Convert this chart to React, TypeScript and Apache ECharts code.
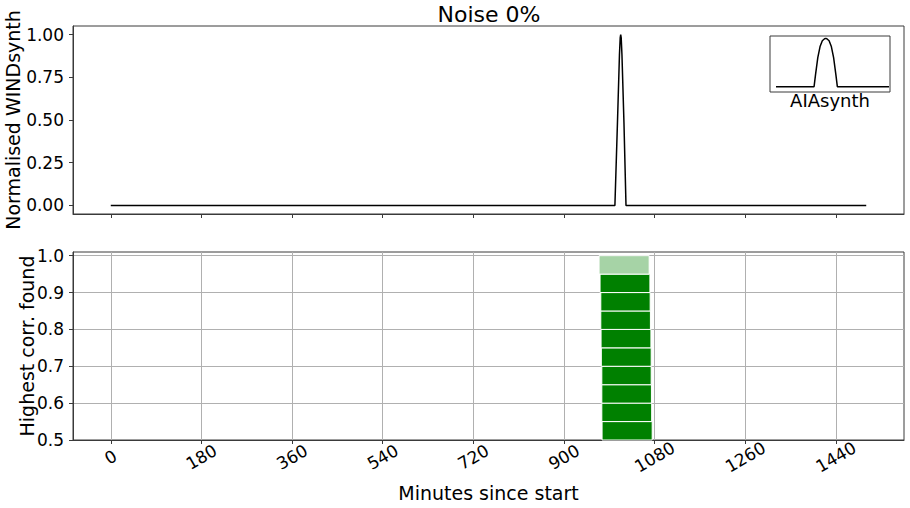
import React, { useEffect, useRef } from "react";
import * as echarts from "echarts";

// ---- data ----
const minuteTicks = [0, 180, 360, 540, 720, 900, 1080, 1260, 1440];
const windTicks = [0, 0.25, 0.5, 0.75, 1.0];
const corrTicks = [0.5, 0.6, 0.7, 0.8, 0.9, 1.0];

// WINDsynth normalised signal (minutes, value)
const windX = [0, 1001, 1006, 1010, 1011.5, 1012.5, 1013.5, 1015, 1019, 1023, 1500];
const windY = [0, 0, 0.48, 0.88, 0.98, 1.0, 0.98, 0.88, 0.48, 0, 0];

// Correlation strips found (dark green)
const stripStart = [975.5, 975, 975, 975, 974, 973.5, 973, 973, 971.5];
const stripEnd = [1075, 1074, 1073.5, 1073, 1073, 1072.5, 1071.5, 1071, 1070.5];
const stripLow = [0.5, 0.55, 0.6, 0.65, 0.7, 0.75, 0.8, 0.85, 0.9];
const stripHigh = [0.55, 0.6, 0.65, 0.7, 0.75, 0.8, 0.85, 0.9, 0.95];

// Best-match strip (light green)
const bestStart = [969.5];
const bestEnd = [1069];
const bestLow = [0.95];
const bestHigh = [1.0];

// AIAsynth template (inset)
const insetX = [0, 33.7, 35, 37, 39, 41, 43, 44, 45, 47, 49, 51, 53, 54.3, 100];
const insetY = [0, 0, 0.25, 0.6, 0.83, 0.95, 0.99, 1, 0.99, 0.95, 0.83, 0.6, 0.25, 0, 0];

const FONT = "DejaVu Sans";
const FRAME = "#3a3a3a";

export default function App() {
  const ref = useRef<HTMLDivElement>(null);
  useEffect(() => {
    if (!ref.current) return;
    const chart = echarts.init(ref.current, undefined, { renderer: "svg" });

    const rectItem = (fill: string) => (params: any, api: any) => {
      const x0 = api.value(0);
      const x1 = api.value(1);
      const y0 = api.value(2);
      const y1 = api.value(3);
      const p0 = api.coord([x0, y1]);
      const p1 = api.coord([x1, y0]);
      return {
        type: "rect",
        shape: { x: p0[0], y: p0[1], width: p1[0] - p0[0], height: p1[1] - p0[1] },
        style: { fill, stroke: "#ffffff", lineWidth: 1 },
      };
    };

    const gridBox = {
      show: true,
      borderColor: FRAME,
      borderWidth: 1,
      backgroundColor: "transparent",
      containLabel: false,
      outerBoundsMode: "none",
    };

    const minuteAxis = (gridIndex: number, showLabels: boolean) => ({
      gridIndex,
      type: "value",
      min: -75,
      max: 1575,
      axisLine: { show: true, onZero: false, lineStyle: { color: FRAME } },
      axisTick: { show: true, length: 4, customValues: minuteTicks, lineStyle: { color: FRAME } },
      axisLabel: {
        show: showLabels,
        customValues: minuteTicks,
        formatter: (v: number) => String(v),
        rotate: 30,
        align: "center",
        verticalAlign: "middle",
        margin: 17,
        fontSize: 17,
        color: "#000",
        fontFamily: FONT,
      },
      splitLine: { show: showLabels, lineStyle: { color: "#b0b0b0", width: 1 } },
    });

    chart.setOption({
      animation: false,
      textStyle: { fontFamily: FONT, color: "#000" },
      title: {
        text: "Noise 0%",
        left: 489,
        top: 3,
        padding: 0,
        textAlign: "center",
        textStyle: { fontFamily: FONT, fontSize: 22, fontWeight: "normal", color: "#000" },
      },
      grid: [
        { left: 73, top: 26, width: 831, height: 188, ...gridBox },
        { left: 73, top: 252, width: 831, height: 188, ...gridBox },
        { left: 770, top: 36, width: 120, height: 56, ...gridBox },
      ],
      xAxis: [
        minuteAxis(0, false),
        {
          ...minuteAxis(1, true),
          name: "Minutes since start",
          nameLocation: "middle",
          nameGap: 43,
          nameMoveOverlap: false,
          nameTextStyle: { fontFamily: FONT, fontSize: 19, color: "#000" },
        },
        {
          gridIndex: 2,
          type: "value",
          min: -5.3,
          max: 100.9,
          show: false,
        },
      ],
      yAxis: [
        {
          gridIndex: 0,
          type: "value",
          min: -0.05,
          max: 1.05,
          name: "Normalised WINDsynth",
          nameLocation: "middle",
          nameGap: 51,
          nameMoveOverlap: false,
          nameTextStyle: { fontFamily: FONT, fontSize: 19, color: "#000" },
          axisLine: { show: true, onZero: false, lineStyle: { color: FRAME } },
          axisTick: { show: true, length: 4, customValues: windTicks, lineStyle: { color: FRAME } },
          axisLabel: {
            customValues: windTicks,
            formatter: (v: number) => v.toFixed(2),
            fontSize: 17,
            margin: 9,
            color: "#000",
            fontFamily: FONT,
          },
          splitLine: { show: false },
        },
        {
          gridIndex: 1,
          type: "value",
          min: 0.5,
          max: 1.01,
          name: "Highest corr. found",
          nameLocation: "middle",
          nameGap: 37,
          nameMoveOverlap: false,
          nameTextStyle: { fontFamily: FONT, fontSize: 19, color: "#000" },
          axisLine: { show: true, onZero: false, lineStyle: { color: FRAME } },
          axisTick: { show: true, length: 4, customValues: corrTicks, lineStyle: { color: FRAME } },
          axisLabel: {
            customValues: corrTicks,
            formatter: (v: number) => v.toFixed(1),
            fontSize: 17,
            margin: 9,
            color: "#000",
            fontFamily: FONT,
          },
          splitLine: { show: true, lineStyle: { color: "#b0b0b0", width: 1 } },
        },
        {
          gridIndex: 2,
          type: "value",
          min: -0.11,
          max: 1.048,
          show: false,
        },
      ],
      series: [
        {
          name: "WINDsynth",
          type: "line",
          xAxisIndex: 0,
          yAxisIndex: 0,
          data: windX.map((x, i) => [x, windY[i]]),
          showSymbol: false,
          symbol: "none",
          lineStyle: { color: "#000", width: 1.5 },
          silent: true,
        },
        {
          name: "Correlation found",
          type: "custom",
          xAxisIndex: 1,
          yAxisIndex: 1,
          renderItem: rectItem("#008000"),
          encode: { x: [0, 1], y: [2, 3] },
          data: stripStart.map((s, i) => [s, stripEnd[i], stripLow[i], stripHigh[i]]),
          silent: true,
        },
        {
          name: "Best match",
          type: "custom",
          xAxisIndex: 1,
          yAxisIndex: 1,
          renderItem: rectItem("#a6d3a6"),
          encode: { x: [0, 1], y: [2, 3] },
          data: bestStart.map((s, i) => [s, bestEnd[i], bestLow[i], bestHigh[i]]),
          silent: true,
        },
        {
          name: "AIAsynth",
          type: "line",
          xAxisIndex: 2,
          yAxisIndex: 2,
          data: insetX.map((x, i) => [x, insetY[i]]),
          showSymbol: false,
          symbol: "none",
          lineStyle: { color: "#000", width: 1.5 },
          silent: true,
        },
      ],
      graphic: [
        {
          type: "text",
          x: 830,
          y: 100,
          style: {
            text: "AIAsynth",
            fontFamily: FONT,
            fontSize: 18,
            fill: "#000",
            align: "center",
            verticalAlign: "middle",
          },
        },
      ],
    });

    return () => chart.dispose();
  }, []);

  return (
    <div
      ref={ref}
      style={{ position: "absolute", left: 0, top: 0, width: 910, height: 508, background: "#fff" }}
    />
  );
}
